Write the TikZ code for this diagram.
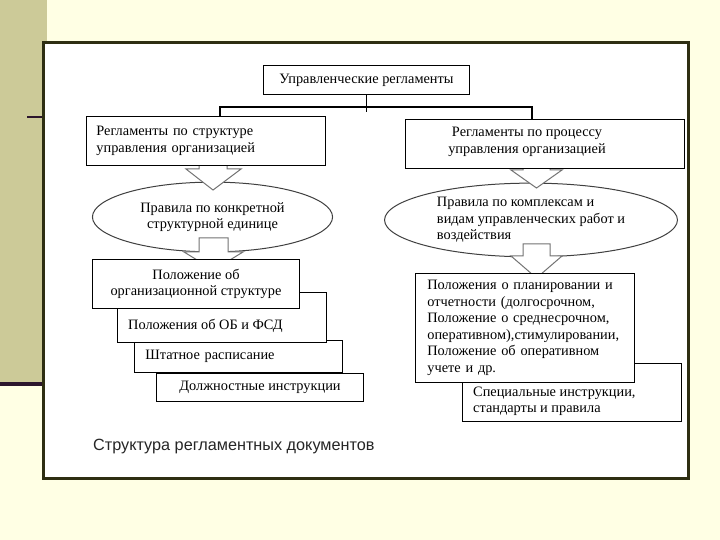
\documentclass[tikz,border=0pt]{standalone}
\usepackage{fontspec}
\setmainfont{Liberation Serif}
\newfontfamily\captionsans{Liberation Sans}
\usepackage{xcolor}
\usepackage{tikz}
\usetikzlibrary{shapes.geometric, arrows}
\usetikzlibrary{shapes,arrows,positioning}
\definecolor{cream}{RGB}{255,255,228}
\definecolor{strip}{RGB}{204,202,152}
\definecolor{panelframe}{RGB}{46,46,18}
\definecolor{darkrule}{RGB}{44,22,44}
\tikzstyle{doc} = [draw, fill=white, line width=1bp, inner sep=0pt]
\tikzstyle{txt} = [inner sep=0pt, align=left]
\tikzstyle{oval} = [ellipse, draw=black!75, fill=white, line width=1bp, inner sep=0pt]
\tikzstyle{fatarrow} = [draw=black!55, fill=white, line width=1bp, line join=miter]
\tikzstyle{bus} = [line width=2bp]

\begin{document}
\begin{tikzpicture}[x=1bp, y=-1bp, every node/.style={font=\fontsize{14.4}{16.6}\selectfont}]
            \useasboundingbox (0,0) rectangle (720,540);
            \fill[cream] (0,0) rectangle (720,540);
            \fill[strip] (0,0) rectangle (47,383);
            \fill[darkrule] (0,382) rectangle (42,386);
            \draw[darkrule, line width=2bp] (27,117) -- (42,117);
            \draw[panelframe, line width=3bp, fill=white] (43,43) rectangle (688,478);

            \node[oval, minimum width=241, minimum height=70, align=center] (lrules) at (212.5,217) {Правила по конкретной\\структурной единице};
            \node[oval, minimum width=294, minimum height=74, align=left] (rrules) at (531,220) {Правила по комплексам и\\видам управленческих работ и\\воздействия};

            \draw[fatarrow] (199,160) -- (199,169) -- (186,169) -- (213,190) -- (241,169) -- (227,169) -- (227,160) -- cycle;
            \draw[fatarrow] (199,238) -- (199,252) -- (184,252) -- (213.5,270) -- (243,252) -- (228,252) -- (228,238) -- cycle;
            \draw[fatarrow] (523,160) -- (523,170) -- (511,170) -- (536.5,188) -- (562,170) -- (550,170) -- (550,160) -- cycle;
            \draw[fatarrow] (523,244) -- (523,256) -- (511,256) -- (536.5,278) -- (562,256) -- (550,256) -- (550,244) -- cycle;

            \node[doc, minimum width=207, minimum height=30] (top) at (366.5,80) {Управленческие регламенты};
            \node[doc, minimum width=240, minimum height=50, text width=220, align=left] (lstruct) at (206,141) {Регламенты по структуре\\управления организацией};
            \node[doc, minimum width=280, minimum height=50] (rproc) at (545,144) {};
            \node[txt, align=center] (rproctext) at (527,142) {Регламенты по процессу\\управления организацией};

            \node[doc, minimum width=208, minimum height=29] (dolzh) at (260,387.5) {Должностные инструкции};
            \node[doc, minimum width=209, minimum height=33, text width=187, align=left] (shtat) at (238.5,356.5) {Штатное расписание};
            \node[doc, minimum width=210, minimum height=51] (obfsd) at (222,317.5) {};
            \node[txt, anchor=west] (obfsdtext) at (128,326) {Положения об ОБ и ФСД};
            \node[doc, minimum width=208, minimum height=50, align=center] (orgstr) at (196,284) {Положение об\\организационной структуре};

            \node[doc, minimum width=220, minimum height=59] (rspec) at (572,392.5) {};
            \node[txt, anchor=west] (rspectext) at (473,401.5) {Специальные инструкции,\\стандарты и правила};
            \node[doc, minimum width=220, minimum height=110, text width=196, align=left] (rplan) at (525,328) {Положения о планировании и\\отчетности (долгосрочном,\\Положение о среднесрочном,\\оперативном),стимулировании,\\Положение об оперативном\\учете и др.};

            \coordinate (lj) at (220,107);
            \coordinate (rj) at (532,107);
            \draw[line width=1bp] (top.south) -- ++(0,17);
            \draw[bus] (lj |- lstruct.north) -- (lj) -- (rj) -- (rj |- rproc.north);

            \node[txt, anchor=west, font=\captionsans\fontsize{16.3}{19}\selectfont, text=black!85] (caption) at (93,447) {Структура регламентных документов};
        \end{tikzpicture}
\end{document}
